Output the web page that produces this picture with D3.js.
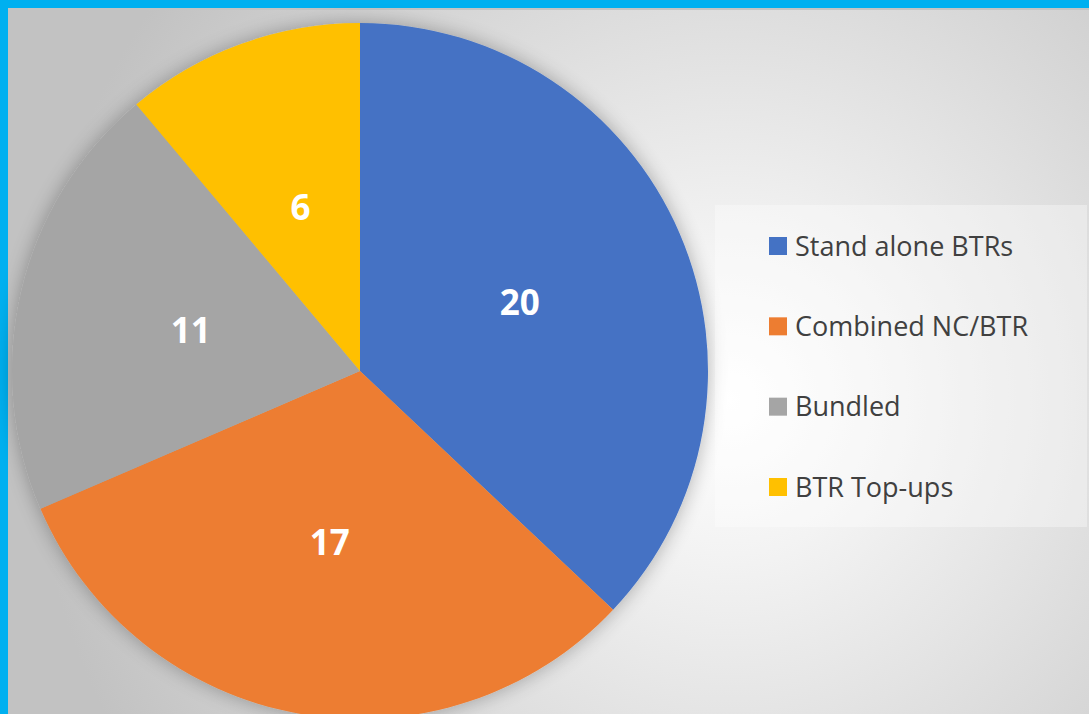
<!DOCTYPE html>
<html>
<head>
<meta charset="utf-8">
<script src="https://cdn.jsdelivr.net/npm/d3@7"></script>
<style>
  body { margin: 0; background: #00B0F0; overflow: hidden; }
  svg { display: block; }
</style>
</head>
<body>
<script>
var width = 1089;
var height = 714;

// data
var categories = ["Stand alone BTRs", "Combined NC/BTR", "Bundled", "BTR Top-ups"];
var values = [20, 17, 11, 6];
var colors = ["#4472C4", "#ED7D31", "#A5A5A5", "#FFC000"];

var data = categories.map(function(c, i) { return {name: c, value: values[i]}; });

var svg = d3.select("body").append("svg")
  .attr("width", width)
  .attr("height", height);

var defs = svg.append("defs");
var grad = defs.append("radialGradient")
  .attr("id", "bg")
  .attr("gradientUnits", "userSpaceOnUse")
  .attr("cx", 730).attr("cy", 400).attr("r", 700);
grad.append("stop").attr("offset", "0%").attr("stop-color", "#ffffff");
grad.append("stop").attr("offset", "22%").attr("stop-color", "#f3f3f3");
grad.append("stop").attr("offset", "100%").attr("stop-color", "#c2c2c2");

var shadow = defs.append("filter")
  .attr("id", "glow")
  .attr("x", "-20%").attr("y", "-20%").attr("width", "140%").attr("height", "140%");
shadow.append("feGaussianBlur").attr("in", "SourceAlpha").attr("stdDeviation", 10).attr("result", "b");
shadow.append("feComponentTransfer").attr("in", "b").attr("result", "s")
  .append("feFuncA").attr("type", "linear").attr("slope", 0.3);
var merge = shadow.append("feMerge");
merge.append("feMergeNode").attr("in", "s");
merge.append("feMergeNode").attr("in", "SourceGraphic");

// cyan frame top/left, gray plot area
svg.append("rect")
  .attr("x", 0).attr("y", 0).attr("width", width).attr("height", height)
  .attr("fill", "#00B0F0");
svg.append("rect")
  .attr("x", 8).attr("y", 8).attr("width", width - 8).attr("height", height - 8)
  .attr("fill", "url(#bg)");
svg.append("rect")
  .attr("x", 8).attr("y", 8).attr("width", width - 8).attr("height", 2)
  .attr("fill", "#c4c4c4");

var cx = 360, cy = 371, r = 348;

var pie = d3.pie().sort(null).value(function(d) { return d.value; });
var arc = d3.arc().innerRadius(0).outerRadius(r);
var labelArc = d3.arc().innerRadius(r * 0.5).outerRadius(r * 0.5);

var g = svg.append("g").attr("transform", "translate(" + cx + "," + cy + ")");

g.append("g").attr("filter", "url(#glow)")
  .selectAll("path")
  .data(pie(data))
  .enter().append("path")
  .attr("d", arc)
  .attr("fill", function(d, i) { return colors[i]; });

g.selectAll(".lbl")
  .data(pie(data))
  .enter().append("text")
  .attr("class", "lbl")
  .attr("transform", function(d) { return "translate(" + labelArc.centroid(d) + ")"; })
  .attr("text-anchor", "middle")
  .attr("dy", "0.36em")
  .attr("fill", "#ffffff")
  .attr("font-family", "'Open Sans', 'DejaVu Sans', sans-serif")
  .attr("font-weight", "bold")
  .attr("font-size", 35)
  .text(function(d) { return d.data.value; });

// legend
var legend = svg.append("g");
legend.append("rect")
  .attr("x", 715).attr("y", 205).attr("width", 372).attr("height", 322)
  .attr("fill", "#ffffff").attr("fill-opacity", 0.35);

var ly = d3.scalePoint().domain(categories).range([246, 487]);

var item = legend.selectAll(".item")
  .data(categories)
  .enter().append("g")
  .attr("class", "item")
  .attr("transform", function(d) { return "translate(769," + ly(d) + ")"; });

item.append("rect")
  .attr("x", 0).attr("y", -9).attr("width", 18).attr("height", 18)
  .attr("fill", function(d, i) { return colors[i]; });

item.append("text")
  .attr("x", 26)
  .attr("dy", "0.36em")
  .attr("fill", "#404040")
  .attr("font-family", "'Open Sans', 'DejaVu Sans', sans-serif")
  .attr("font-size", 27)
  .text(function(d) { return d; });
</script>
</body>
</html>
